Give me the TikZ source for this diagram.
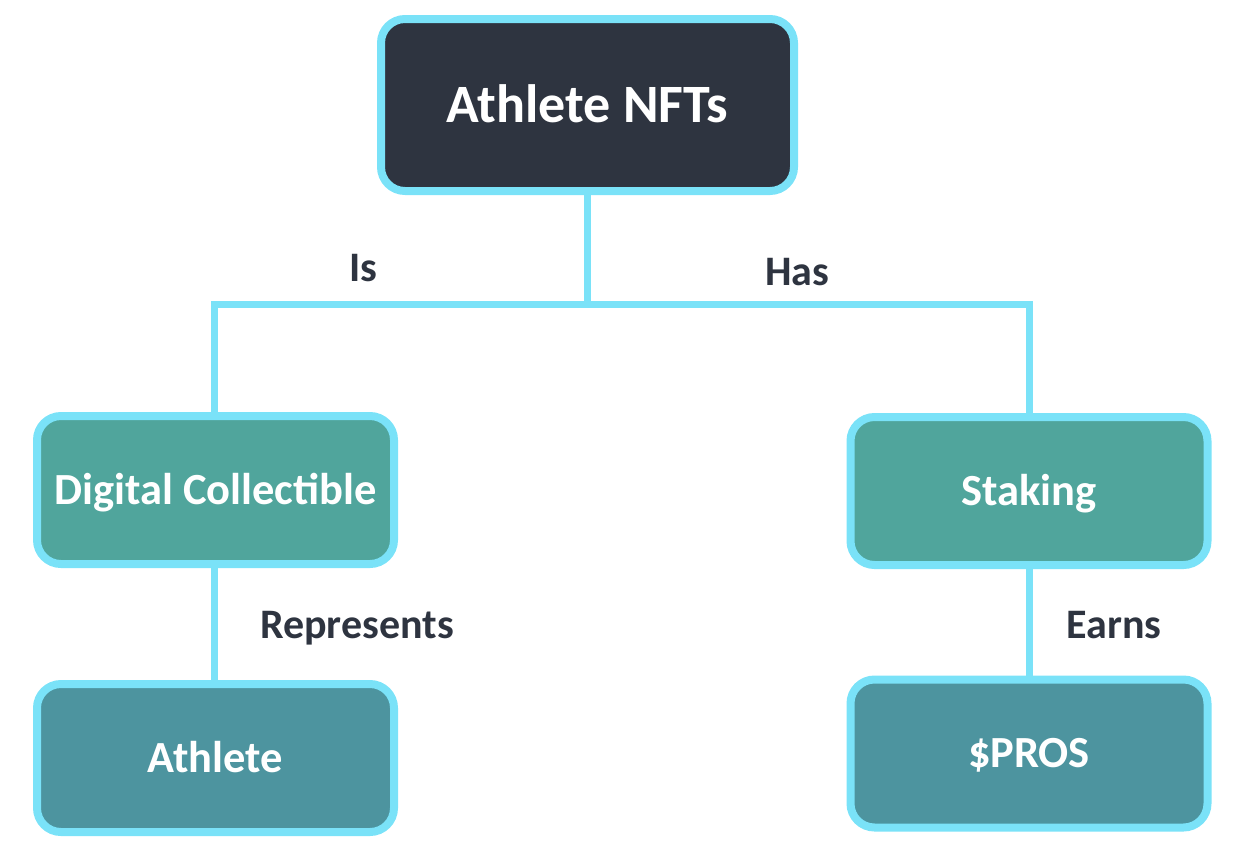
\documentclass[tikz,border=0pt]{standalone}
\usepackage{fontspec}
\setmainfont{Carlito}
\definecolor{edgecol}{HTML}{7AE2F8}
\definecolor{topfill}{HTML}{2E3440}
\definecolor{midfill}{HTML}{50A59C}
\definecolor{lowfill}{HTML}{4D949F}
\definecolor{labcol}{HTML}{2E3440}
\begin{document}
\begin{tikzpicture}[x=1pt,y=-1pt,
  box/.style={draw=edgecol,line width=8pt,rounded corners=24pt,text=white,font=\bfseries\fontsize{44.5}{50}\selectfont,inner sep=0pt,text height=28.6pt,text depth=0pt},
  topbox/.style={box,fill=topfill,minimum width=413pt,minimum height=172pt,font=\bfseries\fontsize{54}{60}\selectfont,text height=34.7pt},
  midbox/.style={box,fill=midfill,minimum width=357pt,minimum height=148pt},
  lowbox/.style={box,fill=lowfill,minimum width=357pt,minimum height=148pt},
  conn/.style={draw=edgecol,line width=7pt},
  lab/.style={text=labcol,font=\bfseries\fontsize{42}{48}\selectfont,anchor=base,inner sep=0pt}]
\useasboundingbox (0,0) rectangle (1248,852);
\coordinate (j) at (587.5,304);
\draw[conn] (587.5,105) -- (j);
\draw[conn] (214,490) |- (j) -| (1029,491);
\draw[conn] (214,490) -- (214,758);
\draw[conn] (1029,491) -- (1029,753.5);
\node[topbox] (top) at (587.5,105) {Athlete NFTs};
\node[midbox] (dc) at (215.5,490) {Digital Collectible};
\node[lowbox] (ath) at (215.5,758) {Athlete};
\node[midbox] (st) at (1029,491) {Staking};
\node[lowbox] (pros) at (1029,753.5) {\$PROS};
\node[lab] (is) at (363,281) {Is};
\node[lab] (has) at (797,285) {Has};
\node[lab] (rep) at (357,638) {Represents};
\node[lab] (earn) at (1114,638) {Earns};
\end{tikzpicture}
\end{document}
